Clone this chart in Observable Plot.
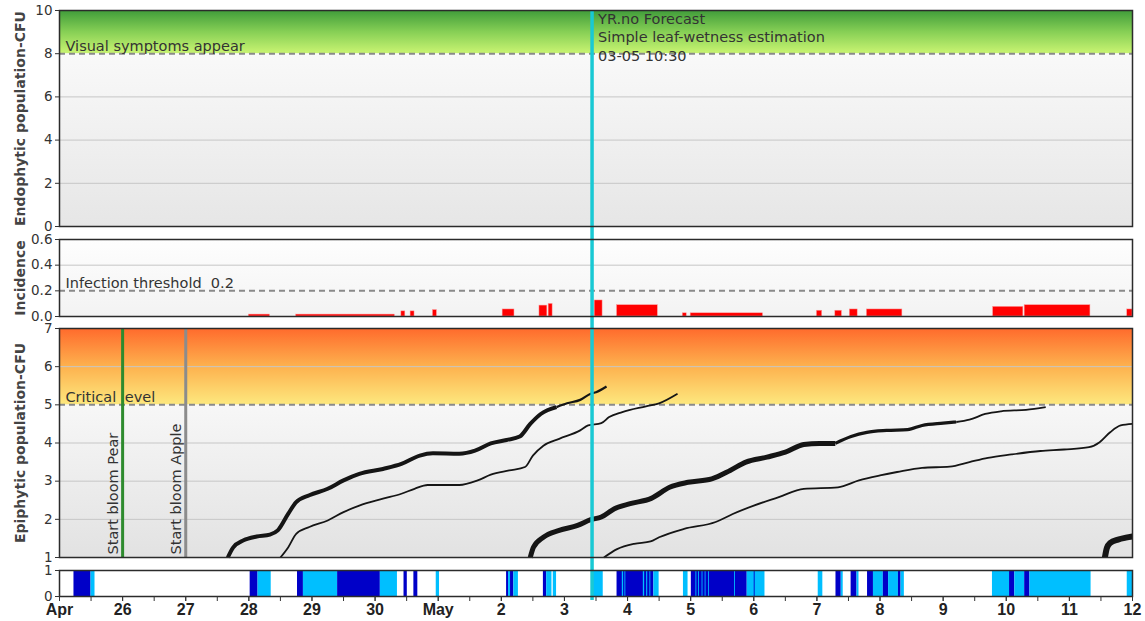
<!DOCTYPE html>
<html>
<head>
<meta charset="utf-8">
<script src="https://cdn.jsdelivr.net/npm/d3@7"></script>
<script src="https://cdn.jsdelivr.net/npm/@observablehq/plot@0.6"></script>
<style>
  body { margin: 0; background: #fff; }
  #chart { position: relative; width: 1145px; height: 621px; }
</style>
</head>
<body>
<svg width="0" height="0" style="position:absolute">
  <defs>
    <linearGradient id="gGreen" x1="0" y1="0" x2="0" y2="1">
      <stop offset="0" stop-color="#3f9c3a"/>
      <stop offset="0.5" stop-color="#86cf55"/>
      <stop offset="1" stop-color="#c9f472"/>
    </linearGradient>
    <linearGradient id="gOrange" x1="0" y1="0" x2="0" y2="1">
      <stop offset="0" stop-color="#ff6a2c"/>
      <stop offset="0.5" stop-color="#fdb14e"/>
      <stop offset="1" stop-color="#fde87e"/>
    </linearGradient>
    <linearGradient id="gGrayEndo" x1="0" y1="0" x2="0" y2="1">
      <stop offset="0" stop-color="#f9f9f9"/>
      <stop offset="1" stop-color="#e6e6e6"/>
    </linearGradient>
    <linearGradient id="gGrayInc" x1="0" y1="0" x2="0" y2="1">
      <stop offset="0" stop-color="#fefefe"/>
      <stop offset="1" stop-color="#f3f3f3"/>
    </linearGradient>
    <linearGradient id="gGrayEpi" x1="0" y1="0" x2="0" y2="1">
      <stop offset="0" stop-color="#f7f7f7"/>
      <stop offset="1" stop-color="#e2e2e2"/>
    </linearGradient>
  </defs>
</svg>
<div id="chart"></div>
<script>
// ---------- data ----------
const YEAR = "2023";
const xStart = "04-25 00:00";
const xEnd = "05-12 00:00";
const forecastStart = "05-03 10:30";
const forecastNote = "YR.no Forecast\nSimple leaf-wetness estimation\n03-05 10:30";

// Endophytic population panel
const endoDomain = [0, 10];
const endoThreshold = 8;
const endoGrid = [2, 4, 6];
const endoNote = "Visual symptoms appear";
const endoTitle = "Endophytic population-CFU";

// Incidence panel
const incDomain = [0, 0.6];
const incThreshold = 0.2;
const incGrid = [0.4];
const incNote = "Infection threshold\u00a0 0.2";
const incTitle = "Incidence";
// [start, end, incidence]
const incidence = [
  ["04-28 00:00", "04-28 08:00", 0.015],
  ["04-28 18:00", "04-30 07:30", 0.015],
  ["04-30 10:00", "04-30 11:30", 0.04],
  ["04-30 13:30", "04-30 15:00", 0.04],
  ["04-30 22:00", "04-30 23:30", 0.05],
  ["05-02 00:30", "05-02 05:00", 0.055],
  ["05-02 14:30", "05-02 17:30", 0.085],
  ["05-02 18:00", "05-02 19:30", 0.098],
  ["05-03 11:30", "05-03 14:30", 0.125],
  ["05-03 20:00", "05-04 11:30", 0.088],
  ["05-04 21:00", "05-04 22:30", 0.025],
  ["05-05 00:00", "05-06 03:30", 0.025],
  ["05-07 00:00", "05-07 02:00", 0.045],
  ["05-07 07:00", "05-07 09:30", 0.045],
  ["05-07 12:30", "05-07 15:30", 0.055],
  ["05-07 19:00", "05-08 08:30", 0.055],
  ["05-09 19:00", "05-10 06:30", 0.075],
  ["05-10 07:00", "05-11 08:00", 0.088],
  ["05-11 22:00", "05-12 00:00", 0.055]
];

// Epiphytic population panel
const epiDomain = [1, 7];
const epiThreshold = 5;
const epiGrid = [2, 3, 4, 6];
const epiNote = "Critical level";
const epiTitle = "Epiphytic population-CFU";
const bloomDates = ["04-26 00:00", "04-27 00:00"];
const bloomLabels = ["Start bloom Pear", "Start bloom Apple"];

// epiphytic population runs: [time, CFU]
const epiA = [
  ["04-27 16:00", 1.00], ["04-27 18:00", 1.26], ["04-27 22:00", 1.45], ["04-28 03:00", 1.55],
  ["04-28 08:00", 1.60], ["04-28 11:00", 1.71], ["04-28 15:00", 2.15], ["04-28 18:00", 2.45],
  ["04-28 23:00", 2.63], ["04-29 06:00", 2.80], ["04-29 12:00", 3.02], ["04-29 18:00", 3.19],
  ["04-30 03:00", 3.32], ["04-30 10:00", 3.45], ["04-30 17:00", 3.67], ["04-30 22:00", 3.73],
  ["05-01 08:00", 3.72], ["05-01 14:00", 3.80], ["05-01 20:00", 3.99], ["05-02 02:00", 4.08],
  ["05-02 07:00", 4.17], ["05-02 11:00", 4.50], ["05-02 15:00", 4.76], ["05-02 21:00", 4.94]
];
const epiATail = [
  ["05-02 21:00", 4.94], ["05-03 01:00", 5.04], ["05-03 06:00", 5.13], ["05-03 10:00", 5.29],
  ["05-03 12:00", 5.33], ["05-03 16:00", 5.48]
];
const epiB = [
  ["04-28 12:00", 1.00], ["04-28 15:00", 1.27], ["04-28 18:00", 1.62], ["04-28 23:00", 1.80],
  ["04-29 06:00", 1.97], ["04-29 12:00", 2.19], ["04-29 18:00", 2.36], ["04-30 03:00", 2.54],
  ["04-30 10:00", 2.67], ["04-30 15:00", 2.80], ["04-30 20:00", 2.90], ["05-01 08:00", 2.90],
  ["05-01 15:00", 3.02], ["05-01 20:00", 3.17], ["05-02 03:00", 3.28], ["05-02 09:00", 3.37],
  ["05-02 12:00", 3.67], ["05-02 16:00", 3.93], ["05-02 22:00", 4.11], ["05-03 06:00", 4.33],
  ["05-03 09:00", 4.46], ["05-03 14:00", 4.52], ["05-03 17:00", 4.68], ["05-03 22:00", 4.81],
  ["05-04 07:00", 4.96], ["05-04 12:00", 5.04], ["05-04 19:00", 5.29]
];
const epiC = [
  ["05-02 11:00", 1.00], ["05-02 12:15", 1.27], ["05-02 16:00", 1.53], ["05-02 22:00", 1.71],
  ["05-03 05:00", 1.84], ["05-03 10:00", 1.99], ["05-03 14:00", 2.06], ["05-03 19:00", 2.28],
  ["05-04 01:00", 2.41], ["05-04 09:00", 2.55], ["05-04 16:00", 2.84], ["05-04 23:00", 2.97],
  ["05-05 08:00", 3.06], ["05-05 15:00", 3.28], ["05-05 21:00", 3.50], ["05-06 05:00", 3.63],
  ["05-06 12:00", 3.76], ["05-06 19:00", 3.96], ["05-07 01:00", 3.99], ["05-07 07:00", 3.99]
];
const epiCMid = [
  ["05-07 07:00", 3.99], ["05-07 13:00", 4.17], ["05-07 19:00", 4.28], ["05-08 02:30", 4.33],
  ["05-08 10:30", 4.35], ["05-08 16:00", 4.46], ["05-09 00:00", 4.52], ["05-09 05:00", 4.55]
];
const epiCTail = [
  ["05-09 05:00", 4.55], ["05-09 10:00", 4.61], ["05-09 16:00", 4.76], ["05-09 22:00", 4.83],
  ["05-10 07:30", 4.87], ["05-10 15:00", 4.94]
];
const epiD = [
  ["05-03 15:00", 1.00], ["05-03 20:00", 1.22], ["05-04 02:30", 1.36], ["05-04 08:45", 1.42],
  ["05-04 12:00", 1.53], ["05-04 21:30", 1.75], ["05-05 09:30", 1.93], ["05-05 16:00", 2.14],
  ["05-06 00:00", 2.36], ["05-06 09:30", 2.58], ["05-06 19:00", 2.80], ["05-07 08:00", 2.84],
  ["05-07 16:00", 3.02], ["05-08 00:00", 3.15], ["05-08 06:30", 3.24], ["05-08 16:00", 3.35],
  ["05-09 02:30", 3.38], ["05-09 10:00", 3.50], ["05-09 17:00", 3.61], ["05-10 02:00", 3.70],
  ["05-10 13:00", 3.79], ["05-10 22:00", 3.83], ["05-11 07:30", 3.89], ["05-11 11:30", 4.02],
  ["05-11 15:30", 4.28], ["05-11 19:30", 4.46], ["05-12 00:00", 4.50]
];
const epiE = [
  ["05-11 13:30", 1.00], ["05-11 14:15", 1.25], ["05-11 15:30", 1.38], ["05-11 18:30", 1.47],
  ["05-11 21:30", 1.52], ["05-12 00:00", 1.55]
];

// Leaf wetness strip: [start, end, class]
const wetness = [
  ["04-25 05:30", "04-25 12:00", "dark"], ["04-25 12:00", "04-25 13:30", "light"],
  ["04-28 00:30", "04-28 03:30", "dark"], ["04-28 03:30", "04-28 08:30", "light"],
  ["04-28 18:30", "04-28 20:45", "dark"], ["04-28 20:45", "04-29 09:45", "light"],
  ["04-29 09:45", "04-30 02:00", "dark"], ["04-30 02:00", "04-30 08:30", "light"],
  ["04-30 11:00", "04-30 12:15", "dark"], ["04-30 14:45", "04-30 16:15", "dark"],
  ["04-30 23:15", "05-01 00:30", "light"],
  ["05-02 02:00", "05-02 02:45", "dark"], ["05-02 02:45", "05-02 03:30", "light"],
  ["05-02 03:30", "05-02 04:45", "dark"], ["05-02 04:45", "05-02 06:30", "light"],
  ["05-02 16:00", "05-02 17:15", "dark"], ["05-02 17:15", "05-02 19:15", "light"],
  ["05-02 19:45", "05-02 21:00", "light"],
  ["05-03 11:00", "05-03 14:45", "light"],
  ["05-03 20:00", "05-04 10:00", "dark"],
  ["05-03 22:00", "05-03 22:30", "light"], ["05-03 23:00", "05-03 23:20", "light"],
  ["05-04 06:00", "05-04 06:30", "light"], ["05-04 07:15", "05-04 07:40", "light"],
  ["05-04 08:30", "05-04 08:50", "light"],
  ["05-04 10:00", "05-04 12:00", "light"],
  ["05-04 21:15", "05-04 23:00", "light"],
  ["05-05 00:15", "05-05 21:30", "dark"],
  ["05-05 02:00", "05-05 02:20", "light"], ["05-05 03:00", "05-05 03:20", "light"],
  ["05-05 04:20", "05-05 04:40", "light"], ["05-05 05:30", "05-05 05:50", "light"],
  ["05-05 06:50", "05-05 07:10", "light"], ["05-05 16:40", "05-05 17:00", "light"],
  ["05-05 21:30", "05-06 04:15", "light"], ["05-06 00:10", "05-06 00:30", "dark"],
  ["05-07 00:30", "05-07 02:15", "light"],
  ["05-07 07:15", "05-07 09:15", "dark"], ["05-07 09:15", "05-07 10:00", "light"],
  ["05-07 13:00", "05-07 15:15", "dark"], ["05-07 15:15", "05-07 16:00", "light"],
  ["05-07 19:15", "05-07 21:30", "dark"], ["05-07 21:30", "05-08 01:15", "light"],
  ["05-08 01:15", "05-08 03:15", "dark"], ["05-08 03:15", "05-08 07:00", "light"],
  ["05-08 07:00", "05-08 08:00", "dark"], ["05-08 08:00", "05-08 09:15", "light"],
  ["05-09 18:45", "05-10 01:15", "light"], ["05-10 01:15", "05-10 03:15", "dark"],
  ["05-10 03:15", "05-10 07:00", "light"], ["05-10 07:00", "05-10 09:00", "dark"],
  ["05-10 09:00", "05-11 08:15", "light"],
  ["05-11 22:00", "05-12 00:00", "light"]
];

// ---------- styles ----------
const FONT = "'DejaVu Sans', 'Liberation Sans', sans-serif";
const TEXT = "#333";
const GRID = "#c6c6c6";
const DASH = { stroke: "#8a8a8a", strokeWidth: 2, strokeDasharray: "6,4" };
const CYAN = "#19c9d4";
const BLOOM_COLORS = ["#2e8b2e", "#8c8c8c"];
const WET = { dark: "#0000c8", light: "#00bfff" };

const t = s => new Date(`${YEAR}-${s.replace(" ", "T")}:00Z`);
const xDomain = [t(xStart), t(xEnd)];
const forecast = t(forecastStart);
const chart = document.getElementById("chart");

function panel({ top, height, mt, mb, yDomain, marks, xAxis = false }) {
  const svg = Plot.plot({
    width: 1145, height,
    marginLeft: 59, marginRight: 13, marginTop: mt, marginBottom: mb,
    x: xAxis ? { type: "utc", domain: xDomain } : { type: "utc", domain: xDomain, axis: null },
    y: { domain: yDomain },
    style: { fontFamily: FONT, fontSize: "13.5px", color: TEXT, background: "transparent", overflow: "visible" },
    marks
  });
  svg.style.position = "absolute";
  svg.style.left = "0px";
  svg.style.top = top + "px";
  chart.append(svg);
}

const full = () => xDomain[0];
const fullEnd = () => xDomain[1];
const zone = (lo, hi, fill) => Plot.rect([0], { x1: full, x2: fullEnd, y1: () => lo, y2: () => hi, fill, inset: 0 });
const yAxis = (ticks, fmt) => Plot.axisY({ ticks, tickSize: 4, tickPadding: 3, label: null, tickFormat: fmt, fontSize: 13.5, fill: TEXT, stroke: TEXT });
const title = s => Plot.text([s], { frameAnchor: "left", text: d => d, rotate: -90, textAnchor: "middle", lineAnchor: "middle", dx: -39, fontWeight: "bold", fontSize: 14, fill: "#444" });
const note = (y, s) => Plot.text([s], { x: full, y: () => y, text: d => d, textAnchor: "start", lineAnchor: "bottom", dx: 6, dy: -3, fontSize: 14.5, fill: TEXT });
const forecastRule = (it, ib) => Plot.ruleX([forecast], { stroke: CYAN, strokeWidth: 3.5, insetTop: it, insetBottom: ib });
const frame = () => Plot.frame({ stroke: "#2b2b2b", strokeWidth: 1.5 });
const line = (data, w) => Plot.line(data, { x: d => t(d[0]), y: d => d[1], curve: "monotone-x", stroke: "#151515", strokeWidth: w, strokeLinejoin: "round", strokeLinecap: "butt" });

// Endophytic population
panel({
  top: 0, height: 232, mt: 10, mb: 6, yDomain: endoDomain,
  marks: [
    zone(endoDomain[0], endoThreshold, "url(#gGrayEndo)"),
    zone(endoThreshold, endoDomain[1], "url(#gGreen)"),
    Plot.ruleY(endoGrid, { stroke: GRID }),
    Plot.ruleY([endoThreshold], DASH),
    note(endoThreshold, endoNote),
    Plot.text([forecastNote], { x: () => forecast, frameAnchor: "top", text: d => d, textAnchor: "start", lineAnchor: "top", dx: 6, dy: 1, fontSize: 14.5, lineHeight: 1.25, fill: TEXT }),
    forecastRule(0, -6),
    frame(),
    yAxis(5),
    title(endoTitle)
  ]
});

// Incidence
panel({
  top: 232, height: 90, mt: 7, mb: 6, yDomain: incDomain,
  marks: [
    zone(incDomain[0], incDomain[1], "url(#gGrayInc)"),
    Plot.ruleY(incGrid, { stroke: GRID }),
    Plot.ruleY([incThreshold], DASH),
    note(incThreshold, incNote),
    Plot.rectY(incidence, { x1: d => t(d[0]), x2: d => t(d[1]), y: d => d[2], fill: "#ff0000", stroke: "#ff9a9a", strokeWidth: 0.5, inset: 0 }),
    forecastRule(-7, -6),
    frame(),
    yAxis(3, d3.format(".1f")),
    title(incTitle)
  ]
});

// Epiphytic population
panel({
  top: 322, height: 241, mt: 6, mb: 6, yDomain: epiDomain,
  marks: [
    zone(epiDomain[0], epiThreshold, "url(#gGrayEpi)"),
    zone(epiThreshold, epiDomain[1], "url(#gOrange)"),
    Plot.ruleY(epiGrid, { stroke: GRID }),
    Plot.ruleY([epiThreshold], DASH),
    note(epiThreshold, epiNote),
    line(epiA, 4), line(epiATail, 2.2),
    line(epiB, 1.8),
    line(epiC, 5), line(epiCMid, 3.2), line(epiCTail, 1.8),
    line(epiD, 1.8),
    line(epiE, 6),
    Plot.ruleX(d3.range(bloomDates.length), { x: i => t(bloomDates[i]), stroke: i => BLOOM_COLORS[i], strokeWidth: 3 }),
    Plot.text(d3.range(bloomDates.length), { x: i => t(bloomDates[i]), y: () => epiDomain[0], text: i => bloomLabels[i], rotate: -90, textAnchor: "start", dx: -9, dy: -3, fontSize: 14.5, fill: TEXT }),
    forecastRule(-6, -6),
    frame(),
    yAxis(6),
    title(epiTitle)
  ]
});

// Leaf wetness strip with the shared time axis
const halfDays = d3.utcHour.every(12).range(xDomain[0], new Date(+xDomain[1] + 1));
const days = d3.utcDay.range(xDomain[0], new Date(+xDomain[1] + 1));
const dayLabel = (d, i) => (i === 0 || d.getUTCDate() === 1) ? d3.utcFormat("%b")(d) : String(d.getUTCDate());
panel({
  top: 563, height: 58, mt: 7, mb: 25, yDomain: [0, 1], xAxis: true,
  marks: [
    zone(0, 1, "#ffffff"),
    Plot.rect(wetness, { x1: d => t(d[0]), x2: d => t(d[1]), y1: () => 0, y2: () => 1, fill: d => WET[d[2]], inset: 0 }),
    forecastRule(-7, -4),
    frame(),
    yAxis(1),
    Plot.axisX({ ticks: halfDays, tickSize: 5, tickFormat: () => "", stroke: TEXT, label: null }),
    Plot.axisX({ ticks: days, tickSize: 5, tickPadding: 2, tickFormat: dayLabel, fontSize: 16, fontWeight: "bold", fontFamily: "'Liberation Sans', Arial, sans-serif", fill: "#222", stroke: TEXT, label: null })
  ]
});
</script>
</body>
</html>
